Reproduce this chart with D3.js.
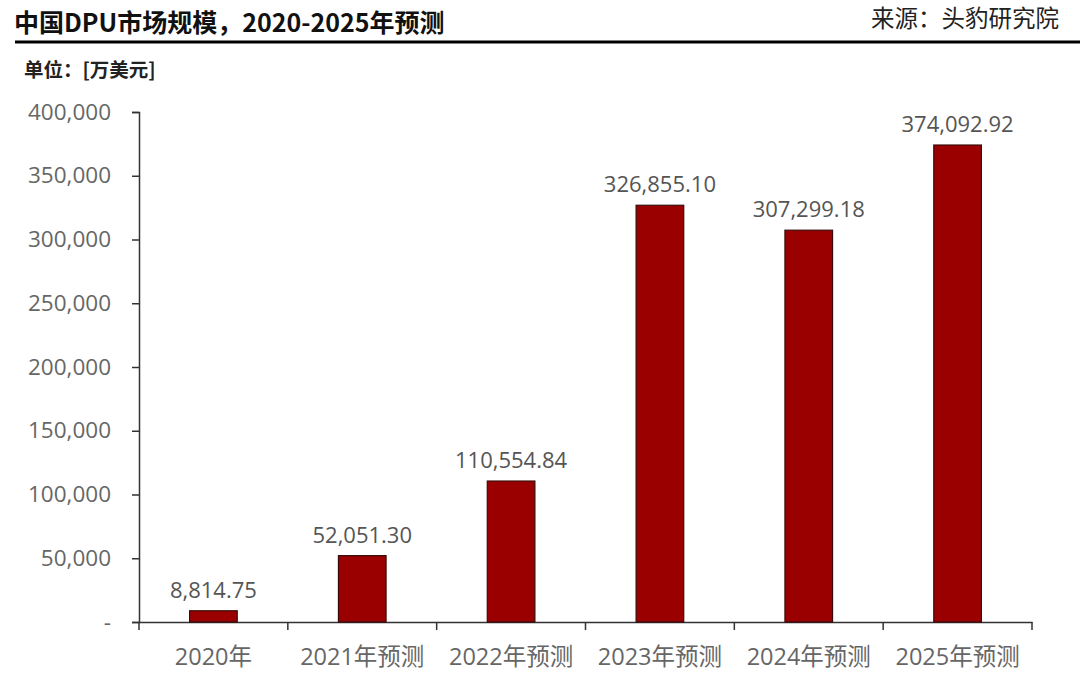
<!DOCTYPE html>
<html>
<head>
<meta charset="utf-8">
<script src="https://cdn.jsdelivr.net/npm/d3@7"></script>
<style>
  body { margin: 0; background: #fff; }
  text { font-family: "Open Sans", "Noto Sans CJK SC", sans-serif; }
</style>
</head>
<body>
<div class="chart"></div>
<script>
var categories = ['2020年', '2021年预测', '2022年预测', '2023年预测', '2024年预测', '2025年预测'];
var values = [8814.75, 52051.30, 110554.84, 326855.10, 307299.18, 374092.92];
var yTicks = [0, 50000, 100000, 150000, 200000, 250000, 300000, 350000, 400000];

var W = 1080, H = 678;
var margin = { top: 112, right: 48, bottom: 56, left: 139 };
let width = W - margin.left - margin.right, height = H - margin.top - margin.bottom;

var svg = d3.select('.chart').append('svg')
    .attr('width', W)
    .attr('height', H);

// header
svg.append('text')
    .attr('x', 14).attr('y', 32)
    .attr('font-size', 25).attr('font-weight', 'bold')
    .attr('fill', '#111')
    .style('font-family', '"Noto Sans CJK SC", sans-serif')
    .text('中国DPU市场规模，2020-2025年预测');
svg.append('text')
    .attr('x', 1059).attr('y', 27)
    .attr('text-anchor', 'end')
    .attr('font-size', 23.5)
    .attr('fill', '#222')
    .style('font-family', '"Noto Sans CJK SC", sans-serif')
    .text('来源：头豹研究院');
svg.append('line')
    .attr('x1', 15).attr('x2', W)
    .attr('y1', 42).attr('y2', 42)
    .attr('stroke', '#000').attr('stroke-width', 3);
svg.append('text')
    .attr('x', 24).attr('y', 77)
    .attr('font-size', 19.5).attr('font-weight', 'bold')
    .attr('fill', '#222')
    .style('font-family', '"Noto Sans CJK SC", sans-serif')
    .text('单位：[万美元]');

var g = svg.append('g')
    .attr('transform', 'translate(' + margin.left + ',' + margin.top + ')');

var x = d3.scaleBand()
    .domain(categories)
    .range([0, width])
    .paddingInner(0.68)
    .paddingOuter(0.34);

var y = d3.scaleLinear()
    .domain([0, 400000])
    .range([height, 0]);

// y axis
var yAxis = g.append('g')
    .call(d3.axisLeft(y)
        .tickValues(yTicks)
        .tickSize(7)
        .tickPadding(21)
        .tickFormat(function (d) { return d === 0 ? '-' : d3.format(',')(d); }));
yAxis.select('.domain').attr('stroke', '#333').attr('stroke-width', 1.5);
yAxis.selectAll('.tick line').attr('stroke', '#333').attr('stroke-width', 1.5);
yAxis.selectAll('text')
    .attr('font-size', 22.5).attr('fill', '#666')
    .style('font-family', '"Open Sans", sans-serif');

// x axis with ticks between categories
var xAxis = g.append('g')
    .attr('transform', 'translate(0,' + height + ')')
    .call(d3.axisBottom(x).tickSize(0).tickPadding(26));
xAxis.select('.domain').attr('stroke', '#333').attr('stroke-width', 1.5);
xAxis.selectAll('text')
    .attr('font-size', 23.5).attr('fill', '#666')
    .style('font-family', '"Open Sans", "Noto Sans CJK SC", sans-serif');

var step = x.step();
var bounds = d3.range(categories.length + 1).map(function (i) { return i * step; });
g.append('g').selectAll('line')
    .data(bounds)
    .enter().append('line')
    .attr('x1', function (d) { return d; })
    .attr('x2', function (d) { return d; })
    .attr('y1', height)
    .attr('y2', height + 8)
    .attr('stroke', '#333').attr('stroke-width', 1.5);

// bars
g.append('g').selectAll('rect')
    .data(values)
    .enter().append('rect')
    .attr('x', function (d, i) { return x(categories[i]); })
    .attr('y', function (d) { return y(d); })
    .attr('width', x.bandwidth())
    .attr('height', function (d) { return height - y(d); })
    .attr('fill', '#9b0000')
    .attr('stroke', '#3a0a0a')
    .attr('stroke-width', 1.2);

// value labels
g.append('g').selectAll('text')
    .data(values)
    .enter().append('text')
    .attr('x', function (d, i) { return x(categories[i]) + x.bandwidth() / 2; })
    .attr('y', function (d) { return y(d) - 13; })
    .attr('text-anchor', 'middle')
    .attr('font-size', 22)
    .attr('fill', '#555')
    .style('font-family', '"Open Sans", sans-serif')
    .text(function (d) { return d3.format(',.2f')(d); });
</script>
</body>
</html>
